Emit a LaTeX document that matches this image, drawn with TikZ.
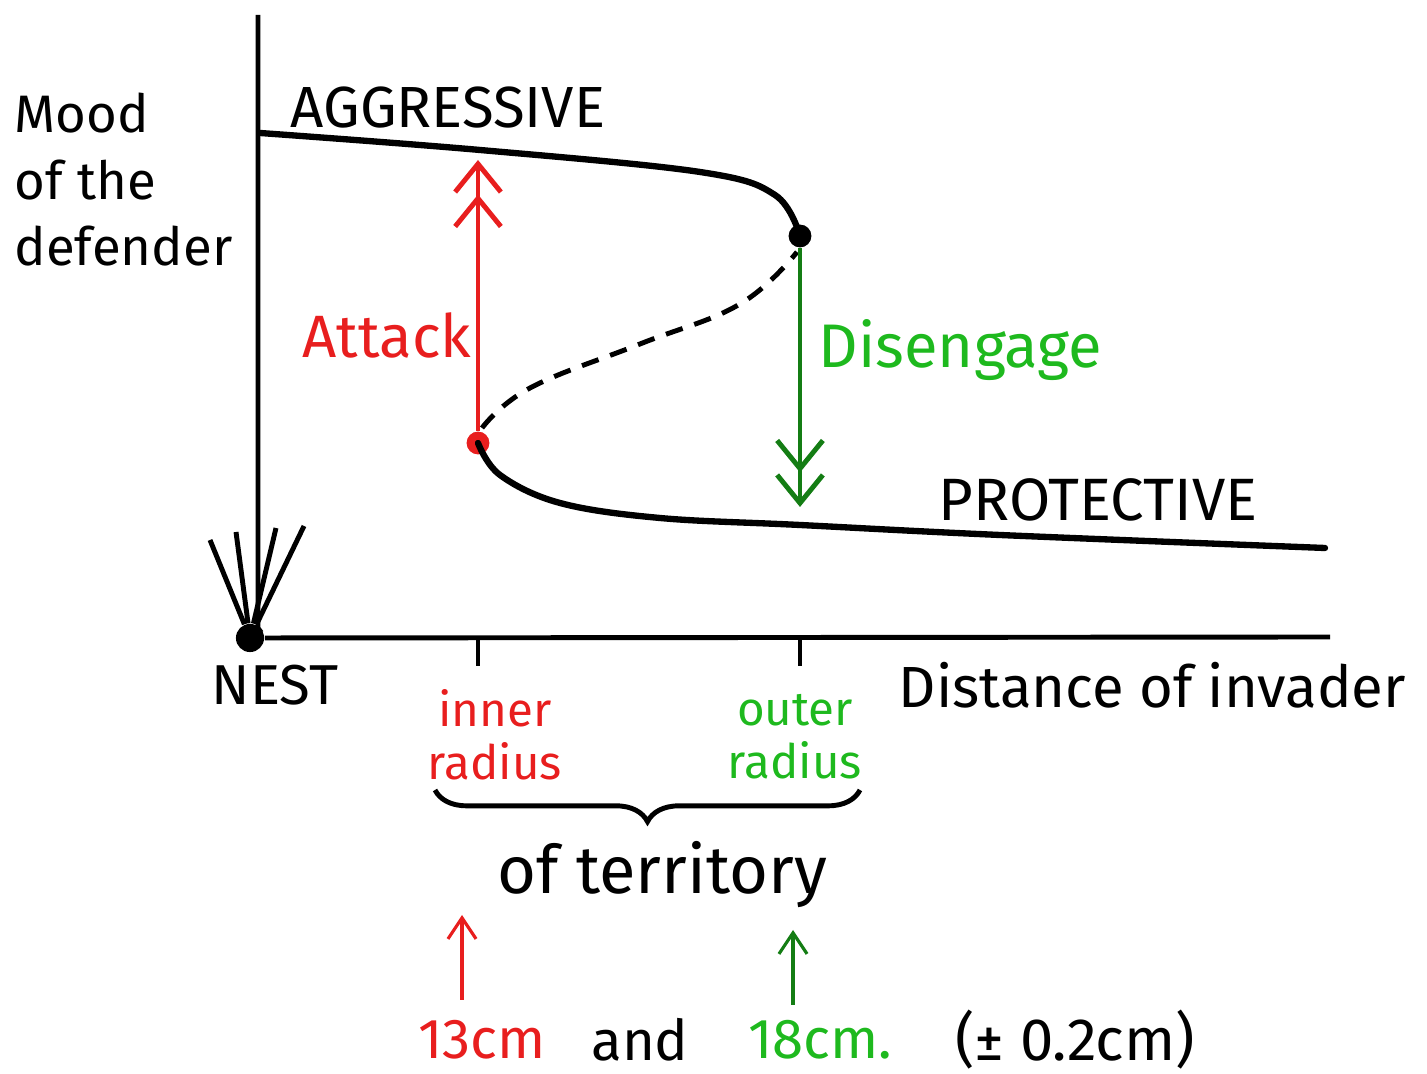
\documentclass[tikz,border=0pt]{standalone}
\usepackage{fontspec}
\setmainfont{Fira Sans}
\usetikzlibrary{positioning,arrows.meta,decorations.pathreplacing}
\definecolor{attackred}{RGB}{232,30,30}
\definecolor{disgreen}{RGB}{30,185,30}
\definecolor{arrowgreen}{RGB}{20,125,20}
\tikzset{hand/.style={font=\fontsize{16}{19}\selectfont,inner sep=0pt}}
\tikzset{small/.style={font=\fontsize{13.5}{15}\selectfont,inner sep=0pt,align=center}}
\tikzset{axis/.style={draw,line width=1.4pt}}
\tikzset{branch/.style={draw,line width=1.8pt,line cap=round}}
\tikzset{unstable/.style={draw,line width=1.4pt,dash pattern=on 5pt off 3.5pt}}
\tikzset{barb/.tip={Straight Barb[length=8pt,width=13pt,line width=1.4pt]}}
\tikzset{jump/.style={draw,line width=1.2pt,-{barb[]barb[]}}}
\tikzset{pointer/.style={draw,line width=0.9pt,-{Straight Barb[length=6pt,width=8pt]}}}
\tikzset{fold/.style={circle,fill,inner sep=0pt,minimum size=6.5pt}}

\begin{document}
\begin{tikzpicture}[x=0.01cm,y=-0.01cm]
    \useasboundingbox (0,0) rectangle (1427,1074);

    % axes and the nest
    \node[fold,minimum size=8pt] (nest) at (250,638) {};
    \coordinate (ytop) at (258,15);
    \coordinate (xend) at (1330,637);
        \path[axis] (ytop) -- (258,632) -- (nest);
        \path[axis] (nest) -- (xend);
    \foreach \tip in {(210,540),(236,532),(276,528),(304,526)}
        \path[axis] (nest) -- \tip;
    \node[hand] (nestlbl) at (275,685) {NEST};

    \node[hand,anchor=north west,align=left,font=\fontsize{15}{19}\selectfont] (mood) at (14,92) {Mood\\of the\\defender};
    \node[hand,anchor=west,font=\fontsize{16.5}{20}\selectfont] (dist) at (898,685) {Distance of invader};

    % the two stable branches and the unstable one
    \node[fold,attackred] (lowfold) at (478,443) {};
    \node[fold] (upfold) at (800,236) {};
        \path[branch] plot[smooth,tension=0.6] coordinates {(260,133) (480,150) (700,172) (775,195) (800,236)};
        \path[branch] plot[smooth,tension=0.6] coordinates {(478,443) (500,475) (560,503) (660,518) (800,525) (1000,535) (1325,548)};
        \path[unstable] plot[smooth,tension=0.7] coordinates {(482,428) (530,388) (640,344) (740,304) (797,252)};

    \node[hand,anchor=west,font=\fontsize{16.5}{19}\selectfont] (aggr) at (290,108) {AGGRESSIVE};
    \node[hand,anchor=west,font=\fontsize{17}{19}\selectfont] (prot) at (938,500) {PROTECTIVE};

    % jumps
    \coordinate (attacktop) at (478,160);
    \coordinate (disbottom) at (800,507);
        \path[jump,attackred] (lowfold) -- (attacktop);
        \path[jump,arrowgreen] (upfold) -- (disbottom);
    \node[hand,attackred,anchor=east,font=\fontsize{17}{19}\selectfont] (attack) at (472,335) {Attack};
    \node[hand,disgreen,anchor=west,font=\fontsize{17.5}{19}\selectfont] (diseng) at (818,350) {Disengage};

    % radii on the distance axis
    \coordinate (innertick) at (478,640);
    \coordinate (outertick) at (800,640);
        \path[axis] (innertick) -- ++(0,26);
        \path[axis] (outertick) -- ++(0,26);
    \node[small,attackred] (innerlbl) at (495,735) {inner\\radius};
    \node[small,disgreen] (outerlbl) at (795,737) {outer\\radius};
        \draw[line width=1.4pt,decorate,decoration={brace,mirror,amplitude=9pt}] (435,790) -- (860,790);
    \node[hand,font=\fontsize{19}{22}\selectfont] (terr) at (662,875) {of territory};

    % measured values
    \node[hand,attackred] (cm13) at (482,1040) {13cm};
    \node[hand] (and) at (640,1040) {and};
    \node[hand,disgreen] (cm18) at (820,1040) {18cm.};
    \node[hand,font=\fontsize{17}{19}\selectfont] (tol) at (1075,1040) {(± 0.2cm)};
    \coordinate (innerptr) at (462,1000);
    \coordinate (outerptr) at (793,1005);
        \path[pointer,attackred] (innerptr) -- (462,915);
        \path[pointer,arrowgreen] (outerptr) -- (793,930);
\end{tikzpicture}
\end{document}
